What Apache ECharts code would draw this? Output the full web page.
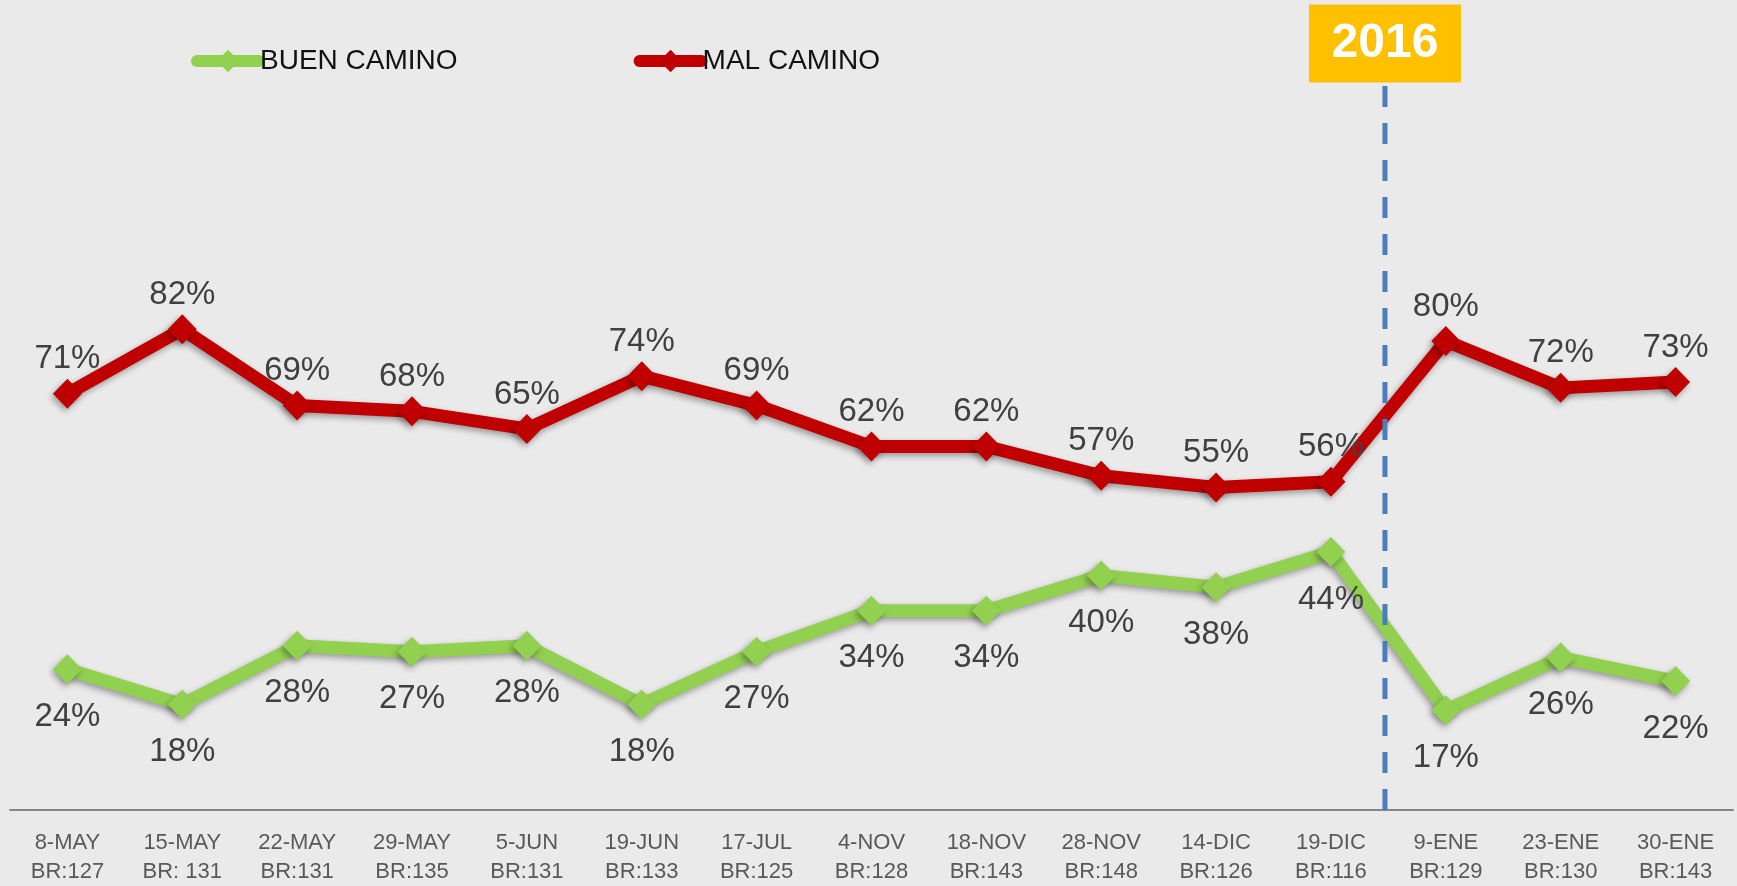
<!DOCTYPE html>
<html>
<head>
<meta charset="utf-8">
<script src="https://cdn.jsdelivr.net/npm/echarts@6/dist/echarts.min.js"></script>
<style>
  html, body { margin: 0; padding: 0; background: #eaeaea; }
  #chart { width: 1737px; height: 886px; }
</style>
</head>
<body>
<div id="chart"></div>
<script>
// fechas y base de cada medicion
const dates = ['8-MAY', '15-MAY', '22-MAY', '29-MAY', '5-JUN', '19-JUN', '17-JUL', '4-NOV', '18-NOV', '28-NOV', '14-DIC', '19-DIC', '9-ENE', '23-ENE', '30-ENE']
const bases = ['BR:127', 'BR: 131', 'BR:131', 'BR:135', 'BR:131', 'BR:133', 'BR:125', 'BR:128', 'BR:143', 'BR:148', 'BR:126', 'BR:116', 'BR:129', 'BR:130', 'BR:143']
const buenCamino = [24, 18, 28, 27, 28, 18, 27, 34, 34, 40, 38, 44, 17, 26, 22]
const malCamino = [71, 82, 69, 68, 65, 74, 69, 62, 62, 57, 55, 56, 80, 72, 73]
// separador de año (en unidades de categoria, justo antes de 9-ENE)
const yearLabel = '2016'
const yearPos = 11.97

const FONT = "'Liberation Sans', Arial, sans-serif"
const categories = dates.map((d, i) => d + '\n' + bases[i])

const chart = echarts.init(document.getElementById('chart'), null, { renderer: 'canvas' })

const shadow = {
  shadowColor: 'rgba(0,0,0,0.35)',
  shadowBlur: 6,
  shadowOffsetX: -2,
  shadowOffsetY: 3
}

function lineSeries(name, data, color, labelPos, dist) {
  return {
    name,
    type: 'line',
    data,
    symbol: 'diamond',
    symbolSize: [29, 30],
    lineStyle: { color, width: 13, ...shadow },
    itemStyle: { color, ...shadow },
    label: {
      show: true,
      position: labelPos,
      distance: dist,
      formatter: '{c}%',
      color: '#404040',
      fontSize: 33,
      fontFamily: FONT
    },
    z: 3
  }
}

chart.setOption({
  backgroundColor: '#eaeaea',
  animation: false,
  legend: {
    data: ['BUEN CAMINO', 'MAL CAMINO'],
    left: 186,
    top: 42,
    itemWidth: 62,
    itemHeight: 28,
    itemGap: 176,
    lineStyle: { width: 12, cap: 'round', shadowBlur: 0, shadowOffsetX: 0, shadowOffsetY: 0 },
    itemStyle: { borderWidth: 0, shadowBlur: 0, shadowOffsetX: 0, shadowOffsetY: 0 },
    textStyle: { color: '#111', fontSize: 28, fontFamily: FONT, padding: [0, 0, 0, -4] }
  },
  grid: { left: 10, right: 4, top: 83, bottom: 75, containLabel: false },
  xAxis: [
    {
      type: 'category',
      data: categories,
      axisLine: { lineStyle: { color: '#868686', width: 2 } },
      axisTick: { length: 8, lineStyle: { color: '#868686', width: 2 } },
      axisLabel: {
        interval: 0,
        color: '#595959',
        fontSize: 22,
        lineHeight: 29,
        margin: 18,
        fontFamily: FONT
      }
    },
    { type: 'value', min: 0, max: dates.length, show: false }
  ],
  yAxis: {
    type: 'value',
    min: 0,
    max: 124,
    show: false,
    splitLine: { show: false }
  },
  series: [
    lineSeries('BUEN CAMINO', buenCamino, '#92d050', 'bottom', 16),
    lineSeries('MAL CAMINO', malCamino, '#c00000', 'top', 3),
    {
      name: 'year',
      type: 'line',
      xAxisIndex: 1,
      symbol: 'none',
      silent: true,
      z: 5,
      lineStyle: { color: '#4a7ebb', width: 5, type: [21, 16] },
      data: [
        [yearPos, 0],
        {
          value: [yearPos, 124],
          symbol: 'rect',
          symbolSize: 1,
          itemStyle: { color: 'transparent' },
          label: {
            show: true,
            position: 'top',
            distance: 0,
            formatter: yearLabel,
            color: '#fff',
            fontWeight: 'bold',
            fontSize: 48,
            fontFamily: FONT,
            backgroundColor: '#ffc000',
            width: 152,
            height: 78,
            lineHeight: 78,
            align: 'center',
            padding: 0
          }
        }
      ]
    }
  ]
})
</script>
</body>
</html>
